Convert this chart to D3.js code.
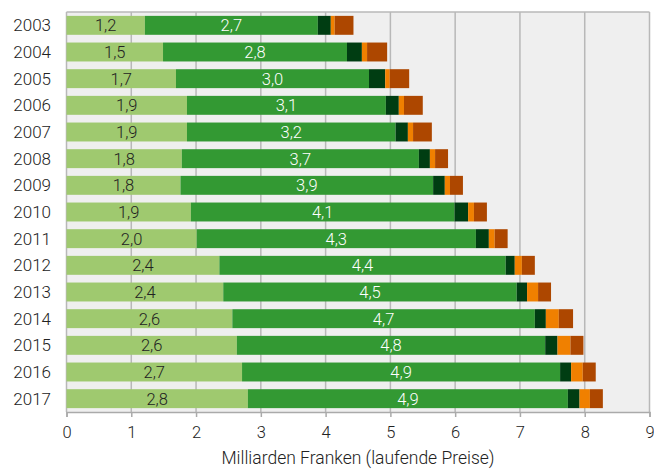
<!DOCTYPE html>
<html><head><meta charset="utf-8">
<script src="https://cdn.jsdelivr.net/npm/d3@7"></script>
<style>body{margin:0;background:#fff;font-family:Roboto,sans-serif;}</style>
</head><body><svg id="c" width="654" height="469"></svg>
<script>
const years = [2003,2004,2005,2006,2007,2008,2009,2010,2011,2012,2013,2014,2015,2016,2017];
const seg1 = [1.21,1.49,1.69,1.86,1.86,1.78,1.76,1.92,2.01,2.36,2.42,2.56,2.63,2.71,2.80];
const seg2 = [2.67,2.84,2.98,3.07,3.22,3.66,3.90,4.07,4.31,4.42,4.53,4.67,4.76,4.91,4.94];
const seg3 = [0.20,0.23,0.25,0.20,0.19,0.17,0.18,0.21,0.20,0.14,0.16,0.17,0.19,0.17,0.18];
const seg4 = [0.06,0.08,0.07,0.08,0.08,0.08,0.08,0.09,0.09,0.11,0.17,0.20,0.20,0.18,0.16];
const seg5 = [0.29,0.31,0.30,0.29,0.29,0.20,0.20,0.20,0.20,0.20,0.20,0.22,0.20,0.20,0.20];
const xTicks = [0,1,2,3,4,5,6,7,8,9];
const colors = ["#9fc96f","#339933","#003d12","#f08000","#ad4700"];
const xTitle = "Milliarden Franken (laufende Preise)";

const svg = d3.select("#c");
const L=66.5, R=649.5, T=12, B=412;
const x = d3.scaleLinear().domain([0,9]).range([L,R]);
const y = d3.scaleBand().domain(years).range([T,B]).paddingInner(0.29).paddingOuter(0.145);

svg.append("rect").attr("x",L).attr("y",T).attr("width",R-L).attr("height",B-T).attr("fill","#efefef");
svg.append("g").selectAll("line").data(xTicks).join("line")
  .attr("x1",d=>x(d)).attr("x2",d=>x(d)).attr("y1",T).attr("y2",B)
  .attr("stroke","#b8b8b8").attr("stroke-width",1.5);
svg.append("line").attr("x1",L).attr("x2",R).attr("y1",T).attr("y2",T).attr("stroke","#b8b8b8").attr("stroke-width",1.5);

const series = [seg1,seg2,seg3,seg4,seg5];
const rows = years.map((yr,i)=>{
  let acc=0; return series.map((s,k)=>{const o={yr,k,v:s[i],x0:acc,x1:acc+s[i]}; acc+=s[i]; return o;});
});
const g = svg.append("g");
rows.forEach(r=>{
  g.selectAll(null).data(r).join("rect")
    .attr("x",d=>x(d.x0)).attr("width",d=>x(d.x1)-x(d.x0))
    .attr("y",d=>y(d.yr)).attr("height",y.bandwidth())
    .attr("fill",d=>colors[d.k]);
  g.selectAll(null).data(r.filter(d=>d.k<2)).join("text")
    .attr("x",d=>(x(d.x0)+x(d.x1))/2).attr("y",d=>y(d.yr)+y.bandwidth()/2)
    .attr("dy","0.36em").attr("text-anchor","middle")
    .attr("font-size",16.5).attr("font-weight",300)
    .attr("fill",d=>d.k===0?"#222":"#fff")
    .text(d=>d3.format(".1f")(d.v).replace(".",","));
});

const ax = svg.append("g").attr("transform",`translate(0,${B})`)
  .call(d3.axisBottom(x).tickValues(xTicks).tickSize(5).tickPadding(9.5).tickFormat(d3.format("d")));
ax.select(".domain").attr("stroke","#aaa").attr("stroke-width",1.5);
ax.selectAll(".tick line").attr("stroke","#aaa").attr("stroke-width",1.5);
ax.selectAll("text").attr("font-size",16.5).attr("font-family","Roboto").attr("font-weight",300).attr("fill","#222");

svg.append("g").selectAll("text").data(years).join("text")
  .attr("x",51).attr("y",d=>y(d)+y.bandwidth()/2).attr("dy","0.36em")
  .attr("text-anchor","end").attr("font-size",17).attr("font-weight",300).attr("fill","#222").text(d=>d);

svg.append("text").attr("x",(L+R)/2).attr("y",464).attr("text-anchor","middle")
  .attr("font-size",17.5).attr("font-weight",300).attr("fill","#222").text(xTitle);
</script></body></html>
